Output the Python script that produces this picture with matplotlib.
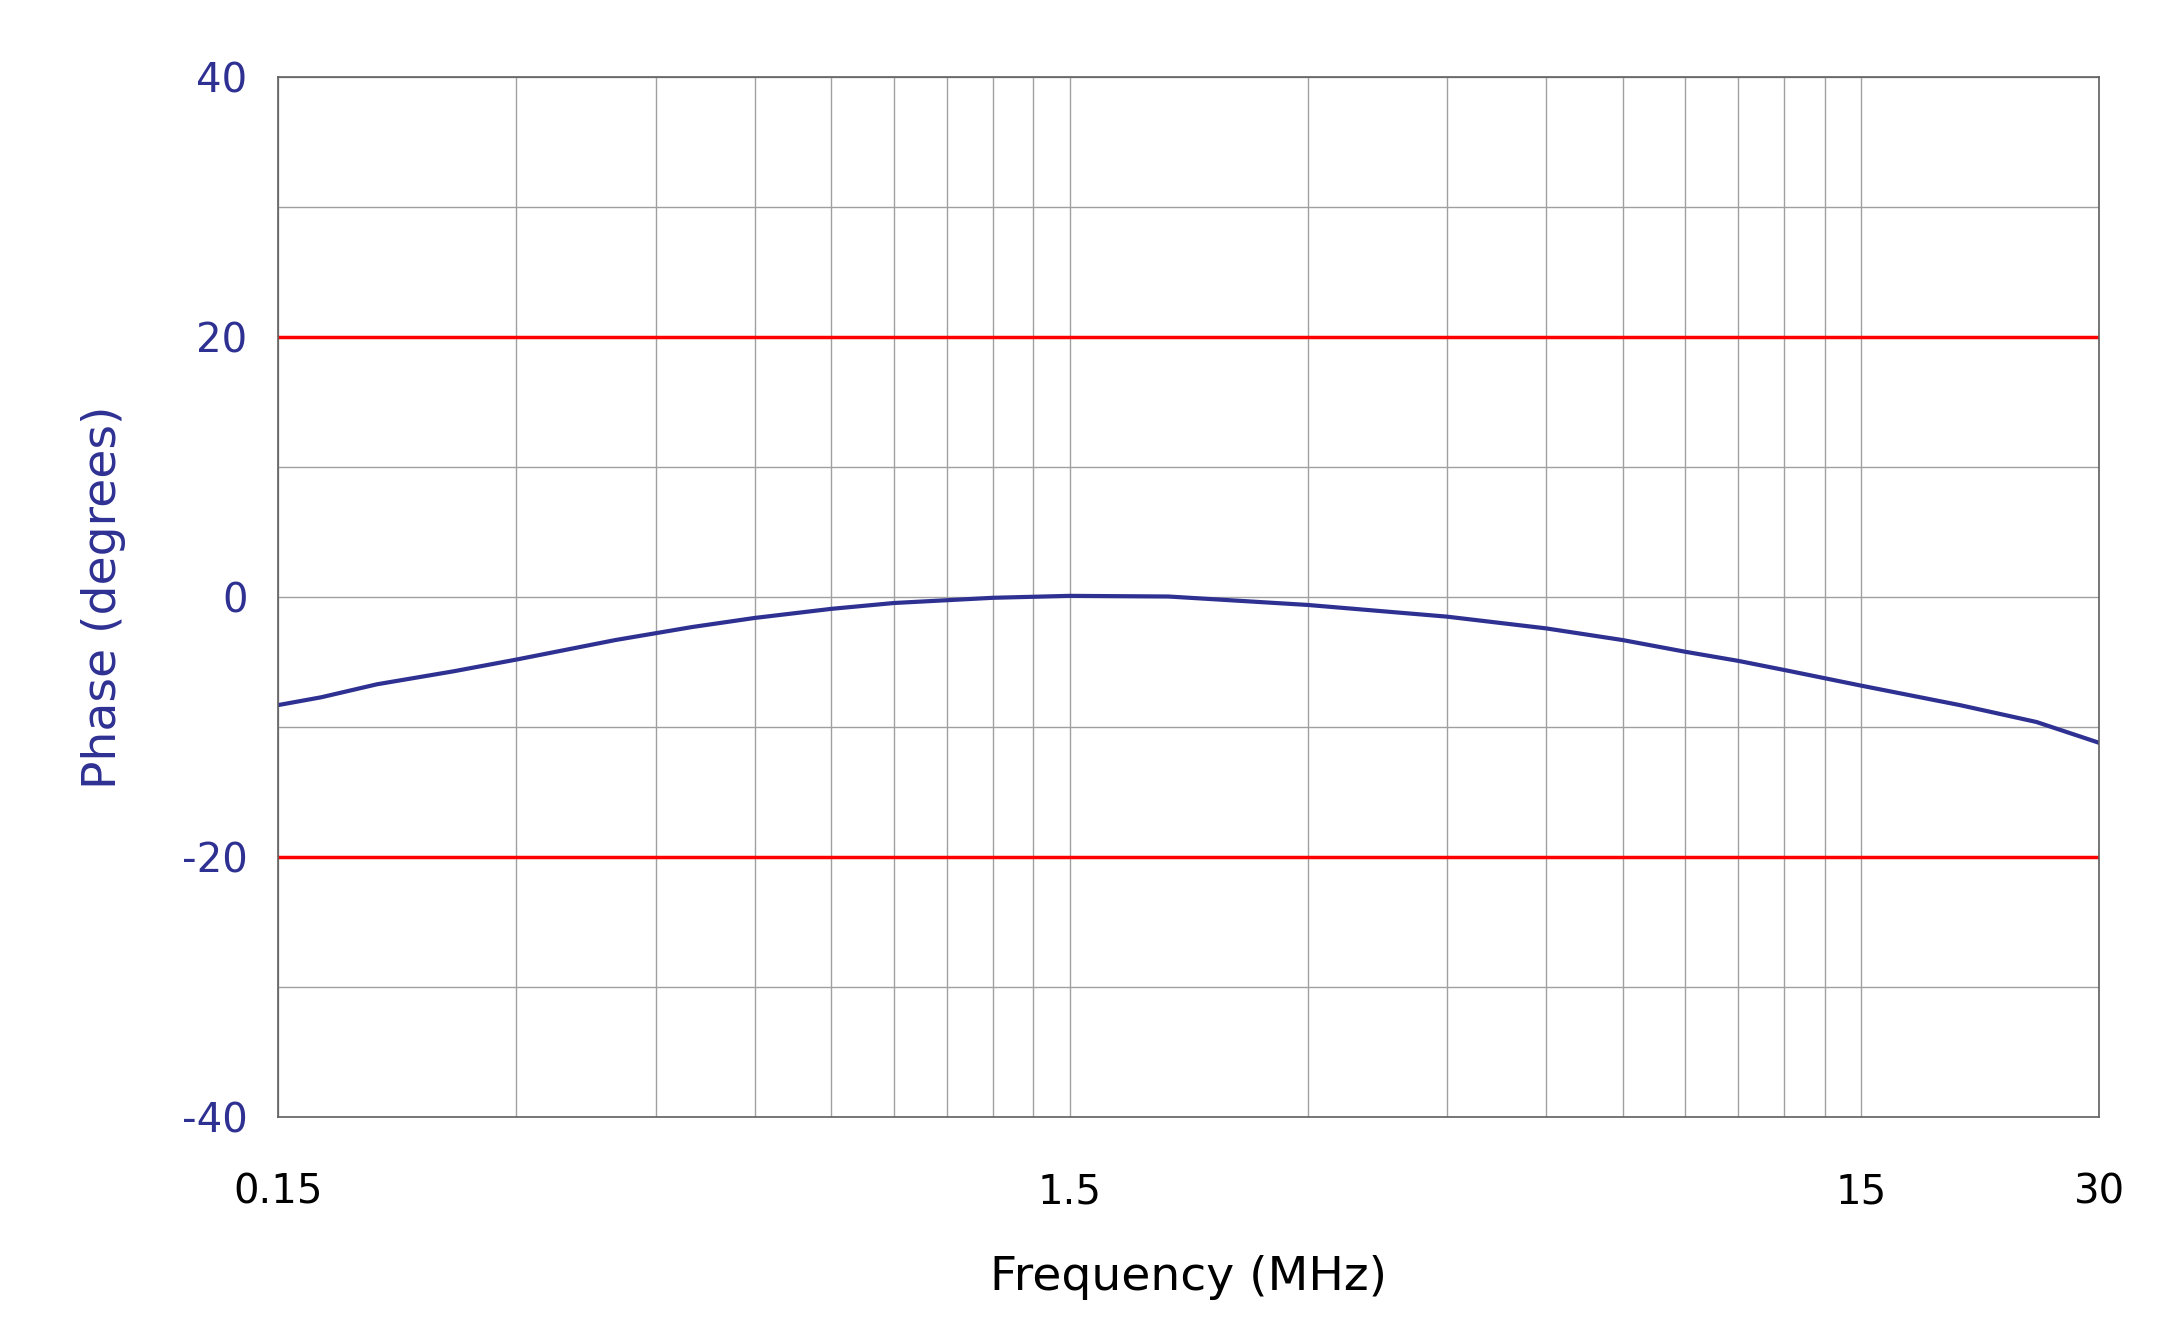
import matplotlib
matplotlib.use("Agg")
import matplotlib.pyplot as plt
from matplotlib.ticker import FixedLocator, NullFormatter

freq_mhz = [0.15, 0.17, 0.2, 0.25, 0.3, 0.4, 0.5, 0.6, 0.75, 0.9, 1.2, 1.5, 2.0, 3.0, 4.5, 6.0, 7.5, 9.0, 10.5, 12.0, 15.0, 20.0, 25.0, 30.0]
phase_deg = [-8.3, -7.7, -6.7, -5.7, -4.8, -3.3, -2.3, -1.6, -0.9, -0.45, -0.05, 0.1, 0.05, -0.6, -1.5, -2.4, -3.3, -4.2, -4.9, -5.6, -6.8, -8.3, -9.6, -11.2]
limit_upper = 20
limit_lower = -20
xtick_vals = [0.15, 1.5, 15, 30]
xtick_labels = ["0.15", "1.5", "15", "30"]
ytick_vals = [-40, -20, 0, 20, 40]
minor_x = [0.15 * k for k in range(2, 10)] + [1.5 * k for k in range(2, 10)]

navy = "#2e3192"
plt.rcParams["font.family"] = ["Liberation Sans Narrow", "DejaVu Sans"]
plt.rcParams["axes.unicode_minus"] = False

fig = plt.figure(figsize=(21.73, 13.27), dpi=100)
ax = fig.add_axes([0.128, 0.158, 0.838, 0.784])

ax.set_xscale("log")
ax.set_xlim(0.15, 30)
ax.set_ylim(-40, 40)
ax.xaxis.set_major_locator(FixedLocator(xtick_vals))
ax.set_xticklabels(xtick_labels)
ax.xaxis.set_minor_locator(FixedLocator(minor_x))
ax.xaxis.set_minor_formatter(NullFormatter())
ax.yaxis.set_major_locator(FixedLocator(ytick_vals))
ax.yaxis.set_minor_locator(FixedLocator([-30, -10, 10, 30]))

ax.grid(True, which="both", color="#a0a0a0", linewidth=1)
ax.tick_params(which="both", length=0, labelsize=29)
ax.tick_params(axis="x", pad=40)
ax.tick_params(axis="y", labelcolor=navy, pad=22)
for s in ax.spines.values():
    s.set_color("#606060")
    s.set_linewidth(1.2)

ax.axhline(limit_upper, color="#ff0000", linewidth=2.5)
ax.axhline(limit_lower, color="#ff0000", linewidth=2.5)
ax.plot(freq_mhz, phase_deg, color=navy, linewidth=3)

ax.set_xlabel("Frequency (MHz)", fontsize=34, labelpad=30)
ax.set_ylabel("Phase (degrees)", fontsize=34, color=navy, labelpad=40)

fig.savefig("out.png", dpi=100)
